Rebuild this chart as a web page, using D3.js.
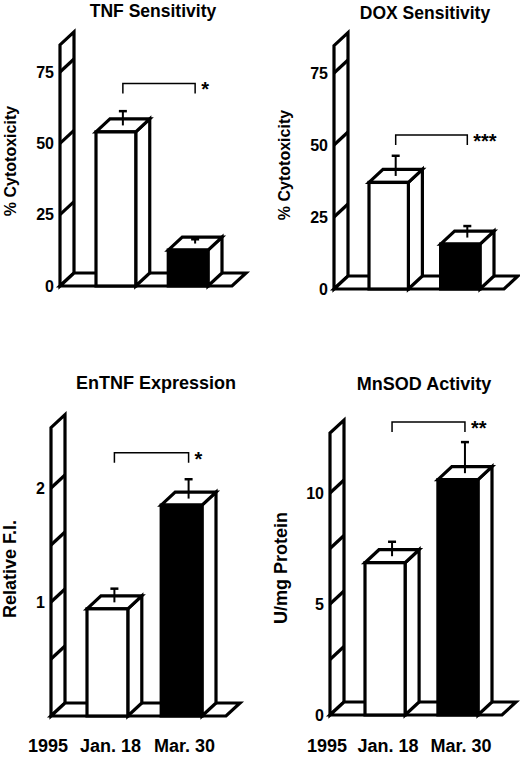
<!DOCTYPE html>
<html>
<head>
<meta charset="utf-8">
<script src="https://cdn.jsdelivr.net/npm/d3@7"></script>
<style>
  body { margin: 0; background: #fff; }
  text { font-family: "Liberation Sans", Arial, Helvetica, sans-serif; font-weight: bold; fill: #000; }
</style>
</head>
<body>
<div id="chart"></div>
<script>
// data
const categories = ["Jan. 18", "Mar. 30"];
const barFills = ["#fff", "#000"];

const tnfValues = [54, 12.6];
const tnfErrors = [5, 1.5];
const doxValues = [37, 15.6];
const doxErrors = [7, 4];
const entnfValues = [0.94, 1.85];
const entnfErrors = [0.12, 0.17];
const mnsodValues = [6.86, 10.6];
const mnsodErrors = [0.65, 1.4];

const cytoTicks = [0, 25, 50, 75];
const cytoMarks = [25, 50, 75];
const entnfTicks = [1, 2];
const entnfMarks = [0.5, 1, 1.5, 2];
const mnsodTicks = [0, 5, 10];
const mnsodMarks = [2.5, 5, 7.5, 10];

const yearLabel = "1995";

const width = 520, height = 757;
const depth = { x: 14, y: -13 };

const svg = d3.select("#chart")
  .append("svg")
  .attr("width", width)
  .attr("height", height)
  .attr("viewBox", `0 0 ${width} ${height}`);

// panel layout (positions only)
const panels = [
  { title: "TNF Sensitivity", titleX: 153, titleY: 17, titleSize: 17.5,
    yLabel: "% Cytotoxicity", yLabelX: 16, yLabelY: 161, yLabelSize: 16,
    values: tnfValues, errors: tnfErrors, ticks: cytoTicks, marks: cytoMarks, sig: "*",
    yDomain: [0, 75], yRange: [286, 72], wallTop: 84.5, wallX: 60, xRange: [96, 208],
    bracket: 71, xLabels: false },
  { title: "DOX Sensitivity", titleX: 425, titleY: 19, titleSize: 17.5,
    yLabel: "% Cytotoxicity", yLabelX: 290, yLabelY: 165, yLabelSize: 16,
    values: doxValues, errors: doxErrors, ticks: cytoTicks, marks: cytoMarks, sig: "***",
    yDomain: [0, 75], yRange: [289, 73], wallTop: 84.5, wallX: 334, xRange: [369, 480],
    bracket: 53.5, xLabels: false },
  { title: "EnTNF Expression", titleX: 156, titleY: 389, titleSize: 18,
    yLabel: "Relative F.I.", yLabelX: 16, yLabelY: 569, yLabelSize: 18,
    values: entnfValues, errors: entnfErrors, ticks: entnfTicks, marks: entnfMarks, sig: "*",
    yDomain: [0, 2], yRange: [716, 488], wallTop: 2.53, wallX: 51, xRange: [87, 202],
    bracket: 2.31, xLabels: true },
  { title: "MnSOD Activity", titleX: 424, titleY: 390, titleSize: 18,
    yLabel: "U/mg Protein", yLabelX: 287, yLabelY: 568, yLabelSize: 18,
    values: mnsodValues, errors: mnsodErrors, ticks: mnsodTicks, marks: mnsodMarks, sig: "**",
    yDomain: [0, 10], yRange: [715, 493], wallTop: 12.7, wallX: 330, xRange: [365, 478],
    bracket: 13.2, xLabels: true }
];

const poly = pts => pts.map(p => p.join(",")).join(" ");

const drawPanel = (p) => {
  const g = svg.append("g");

  // scales
  const y = d3.scaleLinear().domain(p.yDomain).range(p.yRange);
  const x = d3.scaleBand().domain(categories).range(p.xRange).paddingInner(0.45);
  const bw = x.bandwidth();
  const y0 = y(0);
  const wallX = p.wallX;
  const xEnd = p.xRange[1] + 24;

  // back wall
  const yw = y(p.wallTop);
  g.append("polygon")
    .attr("points", poly([[wallX, y0], [wallX, yw], [wallX + depth.x, yw + depth.y], [wallX + depth.x, y0 + depth.y]]))
    .attr("fill", "#fff")
    .attr("stroke", "#000")
    .attr("stroke-width", 3.2);

  g.selectAll(".mark")
    .data(p.marks)
    .enter()
    .append("line")
    .attr("x1", wallX)
    .attr("x2", wallX + depth.x)
    .attr("y1", d => y(d))
    .attr("y2", d => y(d) + depth.y)
    .attr("stroke", "#000")
    .attr("stroke-width", 3.2);

  // floor
  g.append("polygon")
    .attr("points", poly([[wallX, y0], [xEnd, y0], [xEnd + depth.x, y0 + depth.y], [wallX + depth.x, y0 + depth.y]]))
    .attr("fill", "#fff")
    .attr("stroke", "#000")
    .attr("stroke-width", 3.2);

  // tick labels
  g.selectAll(".tick")
    .data(p.ticks)
    .enter()
    .append("text")
    .attr("x", wallX - 6)
    .attr("y", d => y(d))
    .attr("dy", "0.36em")
    .attr("text-anchor", "end")
    .attr("font-size", 16)
    .text(d => d);

  // bars
  categories.forEach((c, i) => {
    const xl = x(c), xr = xl + bw;
    const yt = y(p.values[i]);
    const bar = g.append("g")
      .attr("stroke", "#000")
      .attr("stroke-width", 3.2);

    bar.append("polygon")
      .attr("points", poly([[xr, yt], [xr + depth.x, yt + depth.y], [xr + depth.x, y0 + depth.y], [xr, y0]]))
      .attr("fill", "#fff");
    bar.append("polygon")
      .attr("points", poly([[xl, yt], [xl + depth.x, yt + depth.y], [xr + depth.x, yt + depth.y], [xr, yt]]))
      .attr("fill", "#fff");
    bar.append("rect")
      .attr("x", xl)
      .attr("y", yt)
      .attr("width", bw)
      .attr("height", y0 - yt)
      .attr("fill", barFills[i]);

    // error bar
    const cx = xl + bw / 2 + depth.x / 2;
    const cy = yt + depth.y / 2;
    const ey = y(p.values[i] + p.errors[i]) + depth.y / 2;
    g.append("line")
      .attr("x1", cx).attr("x2", cx)
      .attr("y1", cy).attr("y2", ey)
      .attr("stroke", "#000")
      .attr("stroke-width", 2);
    g.append("line")
      .attr("x1", cx - 4).attr("x2", cx + 4)
      .attr("y1", ey).attr("y2", ey)
      .attr("stroke", "#000")
      .attr("stroke-width", 2.5);
  });

  // significance bracket
  const bx1 = x(categories[0]) + bw / 2 + depth.x / 2;
  const bx2 = x(categories[1]) + bw / 2 + depth.x / 2;
  const by = y(p.bracket);
  g.append("path")
    .attr("d", `M${bx1},${by + 10}V${by}H${bx2}V${by + 10}`)
    .attr("fill", "none")
    .attr("stroke", "#000")
    .attr("stroke-width", 1.5);

  g.append("text")
    .attr("x", bx2 + 6)
    .attr("y", by + 13)
    .attr("font-size", 20)
    .text(p.sig);

  // title
  g.append("text")
    .attr("x", p.titleX)
    .attr("y", p.titleY)
    .attr("text-anchor", "middle")
    .attr("font-size", p.titleSize)
    .text(p.title);

  // y label
  g.append("text")
    .attr("transform", `translate(${p.yLabelX}, ${p.yLabelY}) rotate(-90)`)
    .attr("text-anchor", "middle")
    .attr("font-size", p.yLabelSize)
    .text(p.yLabel);

  // x labels
  if (p.xLabels) {
    g.selectAll(".xlabel")
      .data(categories)
      .enter()
      .append("text")
      .attr("x", d => x(d) + bw / 2 + 3)
      .attr("y", 752)
      .attr("text-anchor", "middle")
      .attr("font-size", 18)
      .text(d => d);

    g.append("text")
      .attr("x", wallX - 3)
      .attr("y", 752)
      .attr("text-anchor", "middle")
      .attr("font-size", 18)
      .text(yearLabel);
  }
};

panels.forEach(drawPanel);
</script>
</body>
</html>
